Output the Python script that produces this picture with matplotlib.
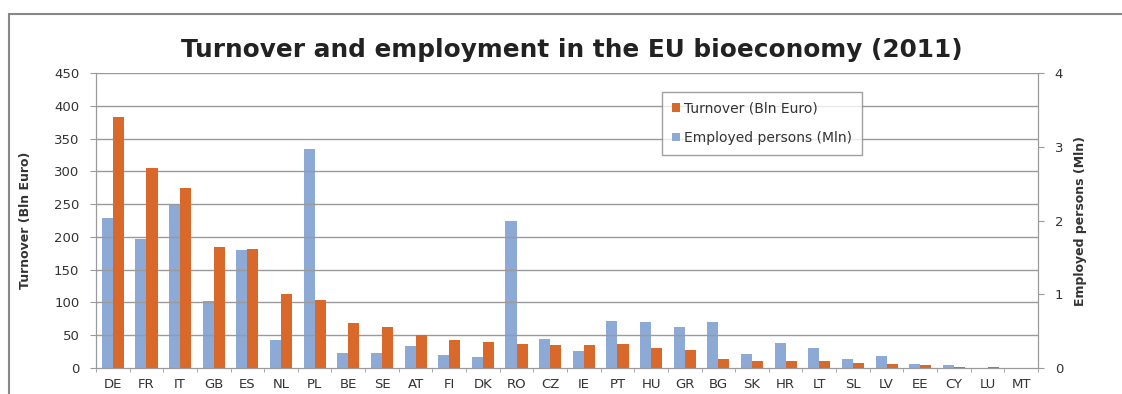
import matplotlib
matplotlib.use("Agg")
import matplotlib.pyplot as plt
import numpy as np
from matplotlib.patches import Rectangle

countries = ["DE", "FR", "IT", "GB", "ES", "NL", "PL", "BE", "SE", "AT", "FI", "DK", "RO", "CZ",
             "IE", "PT", "HU", "GR", "BG", "SK", "HR", "LT", "SL", "LV", "EE", "CY", "LU", "MT"]
turnover = [383, 305, 275, 185, 181, 113, 104, 69, 63, 51, 42, 40, 36, 35,
            35, 36, 31, 27, 13, 11, 10, 10, 7, 6, 4, 2, 1, 0.5]
employed = [2.03, 1.75, 2.22, 0.91, 1.60, 0.38, 2.97, 0.21, 0.21, 0.30, 0.18, 0.15, 2.00, 0.39,
            0.23, 0.64, 0.62, 0.56, 0.63, 0.19, 0.34, 0.27, 0.12, 0.16, 0.06, 0.04, 0.005, 0.003]

left_ticks = [0, 50, 100, 150, 200, 250, 300, 350, 400, 450]
right_ticks = [0, 1, 2, 3, 4]

blue = "#8DAAD6"
orange = "#D9692A"
grid_c = "#9a9a9a"
text_c = "#333333"

fig = plt.figure(figsize=(11.22, 3.94), dpi=100)
fig.patches.append(Rectangle((9/1122, -0.05), 1.2, 1 - 14/394 + 0.05, transform=fig.transFigure,
                             fill=False, edgecolor="#888888", linewidth=1.5))

ax = fig.add_axes([96/1122, 1 - 368/394, (1038 - 96)/1122, (368 - 73)/394])
ax2 = ax.twinx()

x = np.arange(len(countries))
w = 0.33
ax.set_ylim(0, 450)
ax2.set_ylim(0, 4)
ax.set_xlim(-0.5, len(countries) - 0.5)

for yv in left_ticks[1:]:
    ax.axhline(yv, color=grid_c, linewidth=1.0, zorder=0)

ax2.bar(x - w/2, employed, width=w, color=blue, zorder=2, label="Employed persons (Mln)")
ax.bar(x + w/2, turnover, width=w, color=orange, zorder=3, label="Turnover (Bln Euro)")

ax.set_zorder(ax2.get_zorder() + 1)
ax.patch.set_visible(False)

ax.set_yticks(left_ticks)
ax.set_yticklabels([str(v) for v in left_ticks], fontsize=9.5, color=text_c)
ax2.set_yticks(right_ticks)
ax2.set_yticklabels([str(v) for v in right_ticks], fontsize=9.5, color=text_c)

ax.set_xticks(x)
ax.set_xticklabels(countries, fontsize=9.5, color=text_c)
ax.tick_params(axis="x", length=0, pad=7)
ax.set_xticks(np.arange(-0.5, len(countries), 1), minor=True)
ax.tick_params(axis="x", which="minor", length=3, color=grid_c)
ax.tick_params(axis="y", length=4, color=grid_c, pad=8)
ax2.tick_params(axis="y", length=4, color=grid_c, pad=8)

for a in (ax, ax2):
    a.spines["top"].set_visible(False)
    a.spines["left"].set_color(grid_c)
    a.spines["right"].set_color(grid_c)
    a.spines["bottom"].set_color(grid_c)

ax.set_ylabel("Turnover (Bln Euro)", fontsize=9, fontweight="bold", color=text_c, labelpad=16)
ax2.set_ylabel("Employed persons (Mln)", fontsize=9, fontweight="bold", color=text_c, labelpad=8)

fig.text(0.510, 1 - 50/394, "Turnover and employment in the EU bioeconomy (2011)",
         ha="center", va="center", fontsize=17.8, fontweight="bold", color="#222222")

h1, l1 = ax.get_legend_handles_labels()
h2, l2 = ax2.get_legend_handles_labels()
leg = ax.legend(h1 + h2, l1 + l2, loc="upper left", bbox_to_anchor=((655 - 96)/942, 1 - (85 - 73)/295),
                fontsize=10, frameon=True, fancybox=False, edgecolor="#888888",
                handlelength=0.6, handleheight=0.6, handletextpad=0.3, borderpad=0.7,
                labelspacing=1.1, labelcolor=text_c)
leg.get_frame().set_linewidth(1.0)

fig.savefig("out.png", dpi=100)
